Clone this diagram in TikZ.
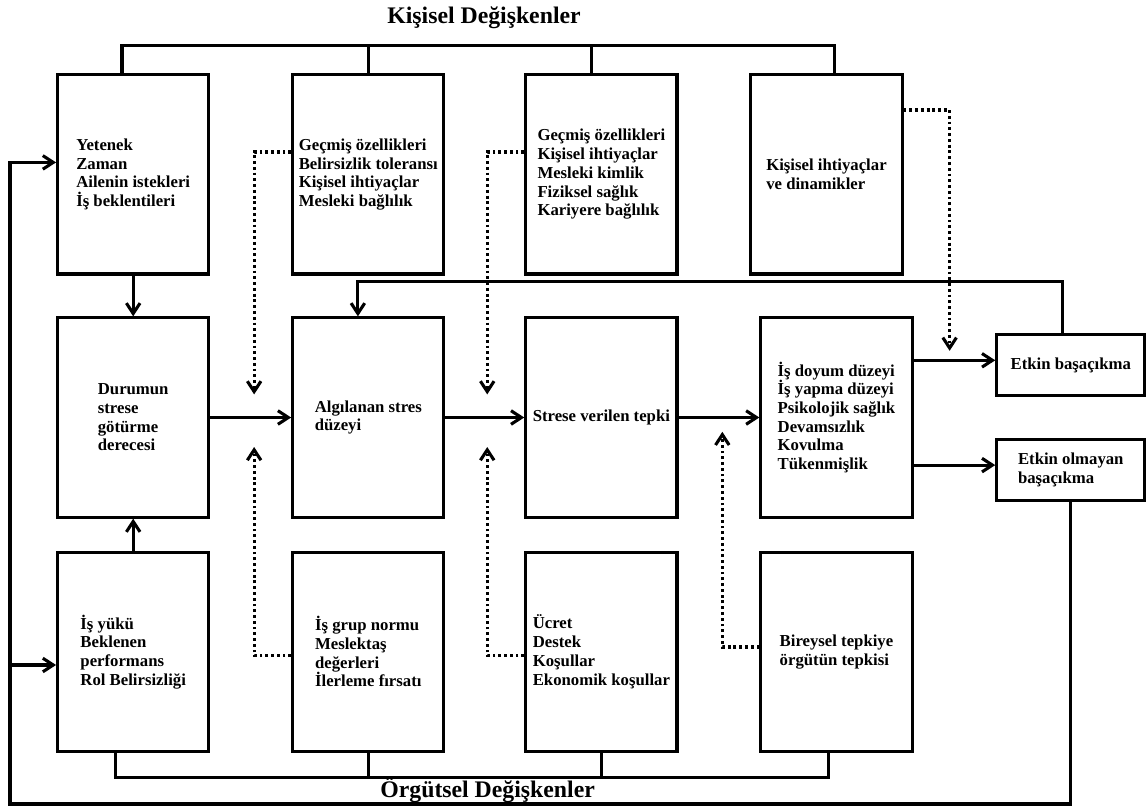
\documentclass[tikz,border=0pt]{standalone}
\usepackage{fontspec}
\setmainfont{Liberation Serif}
\usepackage{tikz}
\usetikzlibrary{arrows.meta, positioning, calc}
\tikzset{
    box/.style={rectangle, draw, line width=2.2pt, minimum width=3.78cm, minimum height=4.98cm, align=left, inner sep=2pt, font=\fontsize{11.9}{13.3}\selectfont\bfseries},
    outcome/.style={box, minimum width=3.7cm, minimum height=1.52cm},
    link/.style={draw, line width=2.2pt},
    arrow/.style={link, -{Straight Barb[length=2.6mm, width=3.4mm]}},
    dottedarrow/.style={arrow, dash pattern=on 2pt off 2.1pt},
    heading/.style={font=\fontsize{16.9}{19}\selectfont\bfseries}
}

\begin{document}
\begin{tikzpicture}[node distance=1.02cm and 2.02cm]
    \useasboundingbox (0,0) rectangle (28.7,-20.25);

    % Titles
    \node[heading] (kisisel) at (12.1,-0.45) {Kişisel Değişkenler};
    \node[heading] (orgutsel) at (12.19,-19.75) {Örgütsel Değişkenler};

    % Top row (personal variables)
    \node[box] (yetenek) at (3.33,-4.36) {Yetenek\\ Zaman\\ Ailenin istekleri\\ İş beklentileri};
    \node[box, right=2.02cm of yetenek] (gecmis) {Geçmiş özellikleri\\ Belirsizlik toleransı\\ Kişisel ihtiyaçlar\\ Mesleki bağlılık};
    \node[box, right=1.97cm of gecmis] (kariyer) {Geçmiş özellikleri\\ Kişisel ihtiyaçlar\\ Mesleki kimlik\\ Fiziksel sağlık\\ Kariyere bağlılık};
    \node[box, right=1.77cm of kariyer] (dinamik) {Kişisel ihtiyaçlar\\ ve dinamikler};

    % Middle row (stress process)
    \node[box, below=1.02cm of yetenek] (durum) {Durumun\\ strese\\ götürme\\ derecesi};
    \node[box, below=1.02cm of gecmis] (algi) {Algılanan stres\\ düzeyi};
    \node[box, below=1.02cm of kariyer] (tepki) {Strese verilen tepki};
    \node[box, right=2.02cm of tepki] (sonuc) {İş doyum düzeyi\\ İş yapma düzeyi\\ Psikolojik sağlık\\ Devamsızlık\\ Kovulma\\ Tükenmişlik};
    \node[outcome, right=2.04cm of sonuc, yshift=1.31cm] (etkin) {Etkin başaçıkma};
    \node[outcome, right=2.04cm of sonuc, yshift=-1.31cm] (olmayan) {Etkin olmayan\\ başaçıkma};

    % Bottom row (organizational variables)
    \node[box, below=0.8cm of durum] (isyuku) {İş yükü\\ Beklenen\\ performans\\ Rol Belirsizliği};
    \node[box, below=0.8cm of algi] (grup) {İş grup normu\\ Meslektaş\\ değerleri\\ İlerleme fırsatı};
    \node[box, below=0.8cm of tepki] (ucret) {Ücret\\ Destek\\ Koşullar\\ Ekonomik koşullar};
    \node[box, below=0.8cm of sonuc] (bireysel) {Bireysel tepkiye\\ örgütün tepkisi};

    % Brackets
    \draw[link] ([xshift=-0.28cm]yetenek.north) -- ++(0,0.69) -| ([xshift=0.2cm]dinamik.north);
    \draw[link] (gecmis.north) -- ++(0,0.69);
    \draw[link] ([xshift=-0.25cm]kariyer.north) -- ++(0,0.69);
    \draw[link] ([xshift=-0.45cm]isyuku.south) -- ++(0,-0.62) -| ([xshift=-0.21cm]bireysel.south);
    \draw[link] (grup.south) -- ++(0,-0.62);
    \draw[link] (ucret.south) -- ++(0,-0.62);

    % Main flow
    \draw[arrow] (yetenek) -- (durum);
    \draw[arrow] (isyuku) -- (durum);
    \draw[arrow] (durum.east) -- (algi.west);
    \draw[arrow] (algi.east) -- (tepki.west);
    \draw[arrow] (tepki.east) -- (sonuc.west);
    \draw[arrow] ([yshift=0.12cm]etkin.west -| sonuc.east) -- ([yshift=0.12cm]etkin.west);
    \draw[arrow] ([yshift=0.12cm]olmayan.west -| sonuc.east) -- ([yshift=0.12cm]olmayan.west);

    % Moderating influences
    \draw[dottedarrow] ([yshift=0.56cm]gecmis.west) -| ($(gecmis.west)+(-0.925,-5.5)$);
    \draw[dottedarrow] ([yshift=0.56cm]kariyer.west) -| ($(kariyer.west)+(-0.925,-5.5)$);
    \draw[dottedarrow] ([yshift=1.61cm]dinamik.east) -| ($(dinamik.east)+(1.15,-4.41)$);
    \draw[dottedarrow] ([yshift=-0.1cm]grup.west) -| ($(grup.west)+(-0.925,5.12)$);
    \draw[dottedarrow] ([yshift=-0.1cm]ucret.west) -| ($(ucret.west)+(-0.925,5.12)$);
    \draw[dottedarrow] ([yshift=0.12cm]bireysel.west) -| ($(bireysel.west)+(-0.925,5.5)$);

    % Feedback loops
    \draw[arrow] ([xshift=-0.2cm]etkin.north) |- ([xshift=-0.26cm, yshift=0.87cm]algi.north) -- ([xshift=-0.26cm]algi.north);
    \coordinate (sol) at (0.25,-20.1);
    \coordinate (isgiris) at ([yshift=-0.33cm]isyuku.west);
    \draw[arrow] (olmayan.south) |- (sol) |- ([yshift=0.3cm]yetenek.west);
    \draw[arrow] (isgiris -| sol) -- (isgiris);

\end{tikzpicture}
\end{document}
